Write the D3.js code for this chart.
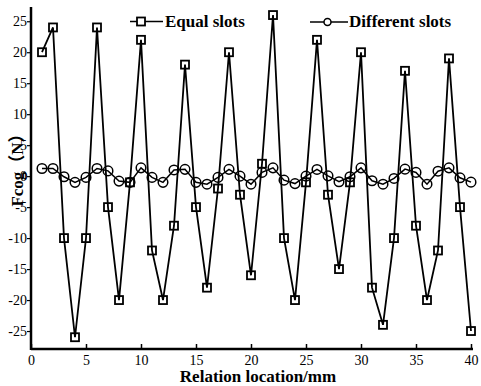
<!DOCTYPE html>
<html>
<head>
<meta charset="utf-8">
<script src="https://cdn.jsdelivr.net/npm/d3@7"></script>
<style>
  body { margin: 0; background: #fff; }
</style>
</head>
<body>
<div id="chart"></div>
<script>
// relation location (mm)
const positions = d3.range(1, 41);
const equalSlots = [20, 24, -10, -26, -10, 24, -5, -20, -1, 22,
  -12, -20, -8, 18, -5, -18, -2, 20, -3, -16,
  2, 26, -10, -20, -1, 22, -3, -15, -1, 20,
  -18, -24, -10, 17, -8, -20, -12, 19, -5, -25];
const differentSlots = [1.24, 1.24, -0.1, -1.0, -0.2, 1.24, 0.85, -0.8, -1.0, 1.34,
  -0.2, -1.0, 1.0, 1.1, -1.0, -1.3, -0.2, 1.1, 0, -1.3,
  0.6, 1.34, -0.65, -1.2, 0, 1.08, 0.05, -0.9, -0.1, 1.34,
  -0.75, -1.3, -0.37, 1.13, 0.6, -1.3, 0.8, 1.34, -0.27, -0.97];
const xTicks = [0, 5, 10, 15, 20, 25, 30, 35, 40];
const yTicks = [-25, -20, -15, -10, -5, 0, 5, 10, 15, 20, 25];

const width = 481, height = 386;
const mLeft = 31, mRight = 471, mTop = 7, mBottom = 349;
const serif = '"Liberation Serif", "Times New Roman", "Noto Sans CJK SC", serif';

const svg = d3.select("#chart").append("svg")
  .attr("width", width)
  .attr("height", height);

const x = d3.scaleLinear().domain([0, 40]).range([mLeft, mRight]);
const y = d3.scaleLinear().domain([-27.9, 27.3]).range([mBottom, mTop]);

// x axis, ticks pointing inward
const xAxis = svg.append("g")
  .attr("transform", "translate(0," + mBottom + ")")
  .call(d3.axisBottom(x).tickValues(xTicks).tickSizeInner(-5).tickSizeOuter(0).tickPadding(6));
xAxis.select(".domain").attr("stroke-width", 2.5).attr("d", "M" + mLeft + ",0H" + (mRight + 2));
xAxis.selectAll(".tick line").attr("stroke-width", 1.5);
xAxis.selectAll("text").style("font-size", "14px").style("font-family", serif);

// y axis
const yAxis = svg.append("g")
  .attr("transform", "translate(" + mLeft + ",0)")
  .call(d3.axisLeft(y).tickValues(yTicks).tickSize(4).tickPadding(0).tickFormat(d => String(d)));
yAxis.select(".domain").attr("stroke-width", 2.5).attr("d", "M0," + mTop + "V" + (mBottom + 1));
yAxis.selectAll(".tick line").attr("stroke-width", 1.2);
yAxis.selectAll("text").style("font-size", "14px").style("font-family", serif);

const line = d3.line().x((d, i) => x(positions[i])).y(d => y(d));

// different slots
svg.append("path")
  .datum(differentSlots)
  .attr("fill", "none")
  .attr("stroke", "#000")
  .attr("stroke-width", 1.5)
  .attr("d", line);

svg.selectAll(".circ")
  .data(differentSlots)
  .enter()
  .append("circle")
  .attr("cx", (d, i) => x(positions[i]))
  .attr("cy", d => y(d))
  .attr("r", 4.8)
  .attr("fill", "none")
  .attr("stroke", "#000")
  .attr("stroke-width", 1.5);

// equal slots
svg.append("path")
  .datum(equalSlots)
  .attr("fill", "none")
  .attr("stroke", "#000")
  .attr("stroke-width", 1.8)
  .attr("d", line);

svg.selectAll(".sq")
  .data(equalSlots)
  .enter()
  .append("rect")
  .attr("x", (d, i) => x(positions[i]) - 4)
  .attr("y", d => y(d) - 4)
  .attr("width", 8)
  .attr("height", 8)
  .attr("fill", "none")
  .attr("stroke", "#000")
  .attr("stroke-width", 1.8);

// legend
const lg = svg.append("g");
lg.append("line").attr("x1", 130).attr("x2", 163).attr("y1", 21.5).attr("y2", 21.5)
  .attr("stroke", "#000").attr("stroke-width", 1.5);
lg.append("rect").attr("x", 137).attr("y", 17.5).attr("width", 8).attr("height", 8)
  .attr("fill", "#fff").attr("stroke", "#000").attr("stroke-width", 1.8);
lg.append("text").attr("x", 165).attr("y", 26.5).text("Equal slots")
  .style("font-size", "17px").style("font-weight", "bold").style("font-family", serif);

lg.append("line").attr("x1", 310).attr("x2", 348).attr("y1", 22).attr("y2", 22)
  .attr("stroke", "#000").attr("stroke-width", 1.5);
lg.append("circle").attr("cx", 327.5).attr("cy", 22).attr("r", 3.5)
  .attr("fill", "#fff").attr("stroke", "#000").attr("stroke-width", 1.5);
lg.append("text").attr("x", 349).attr("y", 26.5).text("Different slots")
  .style("font-size", "17px").style("font-weight", "bold").style("font-family", serif);

// axis titles
svg.append("text")
  .attr("x", 258).attr("y", 382)
  .attr("text-anchor", "middle")
  .style("font-size", "17px").style("font-weight", "bold").style("font-family", serif)
  .text("Relation location/mm");

svg.append("text")
  .attr("transform", "translate(23,166) rotate(-90)")
  .attr("text-anchor", "middle")
  .style("font-size", "17px").style("font-weight", "bold").style("font-family", serif)
  .text("Fcog（N）");
</script>
</body>
</html>
